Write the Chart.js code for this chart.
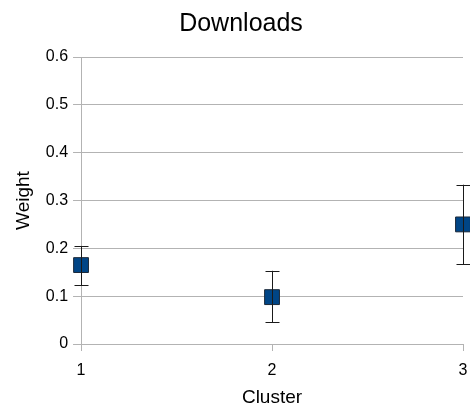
<!DOCTYPE html>
<html>
<head>
<meta charset="utf-8">
<script src="https://cdn.jsdelivr.net/npm/chart.js@4/dist/chart.umd.min.js"></script>
<style>
  html, body { margin: 0; padding: 0; background: #fff; }
  #wrap { width: 470px; height: 408px; }
</style>
</head>
<body>
<div id="wrap"><canvas id="weight-chart"></canvas></div>
<script>
// cluster weights with error ranges
var clusters = [1, 2, 3];
var weights = [0.165, 0.098, 0.250];
var errLow = [0.123, 0.046, 0.167];
var errHigh = [0.205, 0.153, 0.333];
var yTicks = [0, 0.1, 0.2, 0.3, 0.4, 0.5, 0.6];

// draws the vertical error bars with caps, using the chart scales
var errorBars = {
    id: 'errorBars',
    afterDatasetsDraw: function (chart) {
        var ctx = chart.ctx;
        var xs = chart.scales.x, ys = chart.scales.y;
        ctx.save();
        ctx.strokeStyle = '#1a1a1a';
        ctx.lineWidth = 1;
        for (var i = 0; i < clusters.length; i++) {
            var x = Math.round(xs.getPixelForValue(clusters[i])) + 0.5;
            var top = ys.getPixelForValue(errHigh[i]);
            var bot = ys.getPixelForValue(errLow[i]);
            ctx.beginPath();
            ctx.moveTo(x, top); ctx.lineTo(x, bot);
            ctx.moveTo(x - 7, Math.round(top) + 0.5); ctx.lineTo(x + 7, Math.round(top) + 0.5);
            ctx.moveTo(x - 7, Math.round(bot) + 0.5); ctx.lineTo(x + 7, Math.round(bot) + 0.5);
            ctx.stroke();
        }
        ctx.restore();
    }
};

var ctx = document.getElementById('weight-chart').getContext('2d');
var chart = new Chart(ctx, {
    type: 'scatter',
    data: {
        datasets: [{
            label: 'Weight',
            data: clusters.map(function (c, i) { return { x: c, y: weights[i] }; }),
            pointStyle: 'rect',
            pointRadius: 10.5,
            pointHoverRadius: 10.5,
            backgroundColor: '#004586',
            borderColor: '#1c2a3a',
            borderWidth: 1,
            clip: false
        }]
    },
    plugins: [errorBars],
    options: {
        responsive: true,
        maintainAspectRatio: false,
        animation: false,
        layout: { autoPadding: false, padding: { top: 0, right: 0, left: 12, bottom: 1 } },
        plugins: {
            legend: { display: false },
            tooltip: { enabled: false },
            title: {
                display: true,
                text: 'Downloads',
                color: '#000',
                font: { family: 'Liberation Sans', size: 25, weight: 'normal' },
                padding: { top: 9, bottom: 18 }
            }
        },
        scales: {
            x: {
                type: 'linear',
                min: 1,
                max: 3,
                afterBuildTicks: function (axis) {
                    axis.ticks = clusters.map(function (v) { return { value: v }; });
                },
                // keep the plot running close to the right edge
                afterFit: function (axis) {
                    axis.paddingLeft = 0;
                    axis.paddingRight = 7;
                },
                grid: { color: '#b3b3b3', drawOnChartArea: false, tickLength: 7 },
                border: { color: '#b3b3b3' },
                ticks: { color: '#000', font: { family: 'Liberation Sans', size: 16, lineHeight: 1 }, padding: 12 },
                title: {
                    display: true,
                    text: 'Cluster',
                    color: '#000',
                    font: { family: 'Liberation Sans', size: 19, lineHeight: 1 },
                    padding: { top: -3, bottom: 0 }
                }
            },
            y: {
                min: 0,
                max: 0.6,
                afterBuildTicks: function (axis) {
                    axis.ticks = yTicks.map(function (v) { return { value: v }; });
                },
                grid: { color: '#b3b3b3', tickLength: 8 },
                border: { color: '#b3b3b3' },
                ticks: {
                    color: '#000',
                    font: { family: 'Liberation Sans', size: 16 },
                    padding: 5,
                    callback: function (v) { return v === 0 ? '0' : v.toFixed(1); }
                },
                title: {
                    display: true,
                    text: 'Weight',
                    color: '#000',
                    font: { family: 'Liberation Sans', size: 19 },
                    padding: { top: 0, bottom: 6 }
                }
            }
        }
    }
});
</script>
</body>
</html>
